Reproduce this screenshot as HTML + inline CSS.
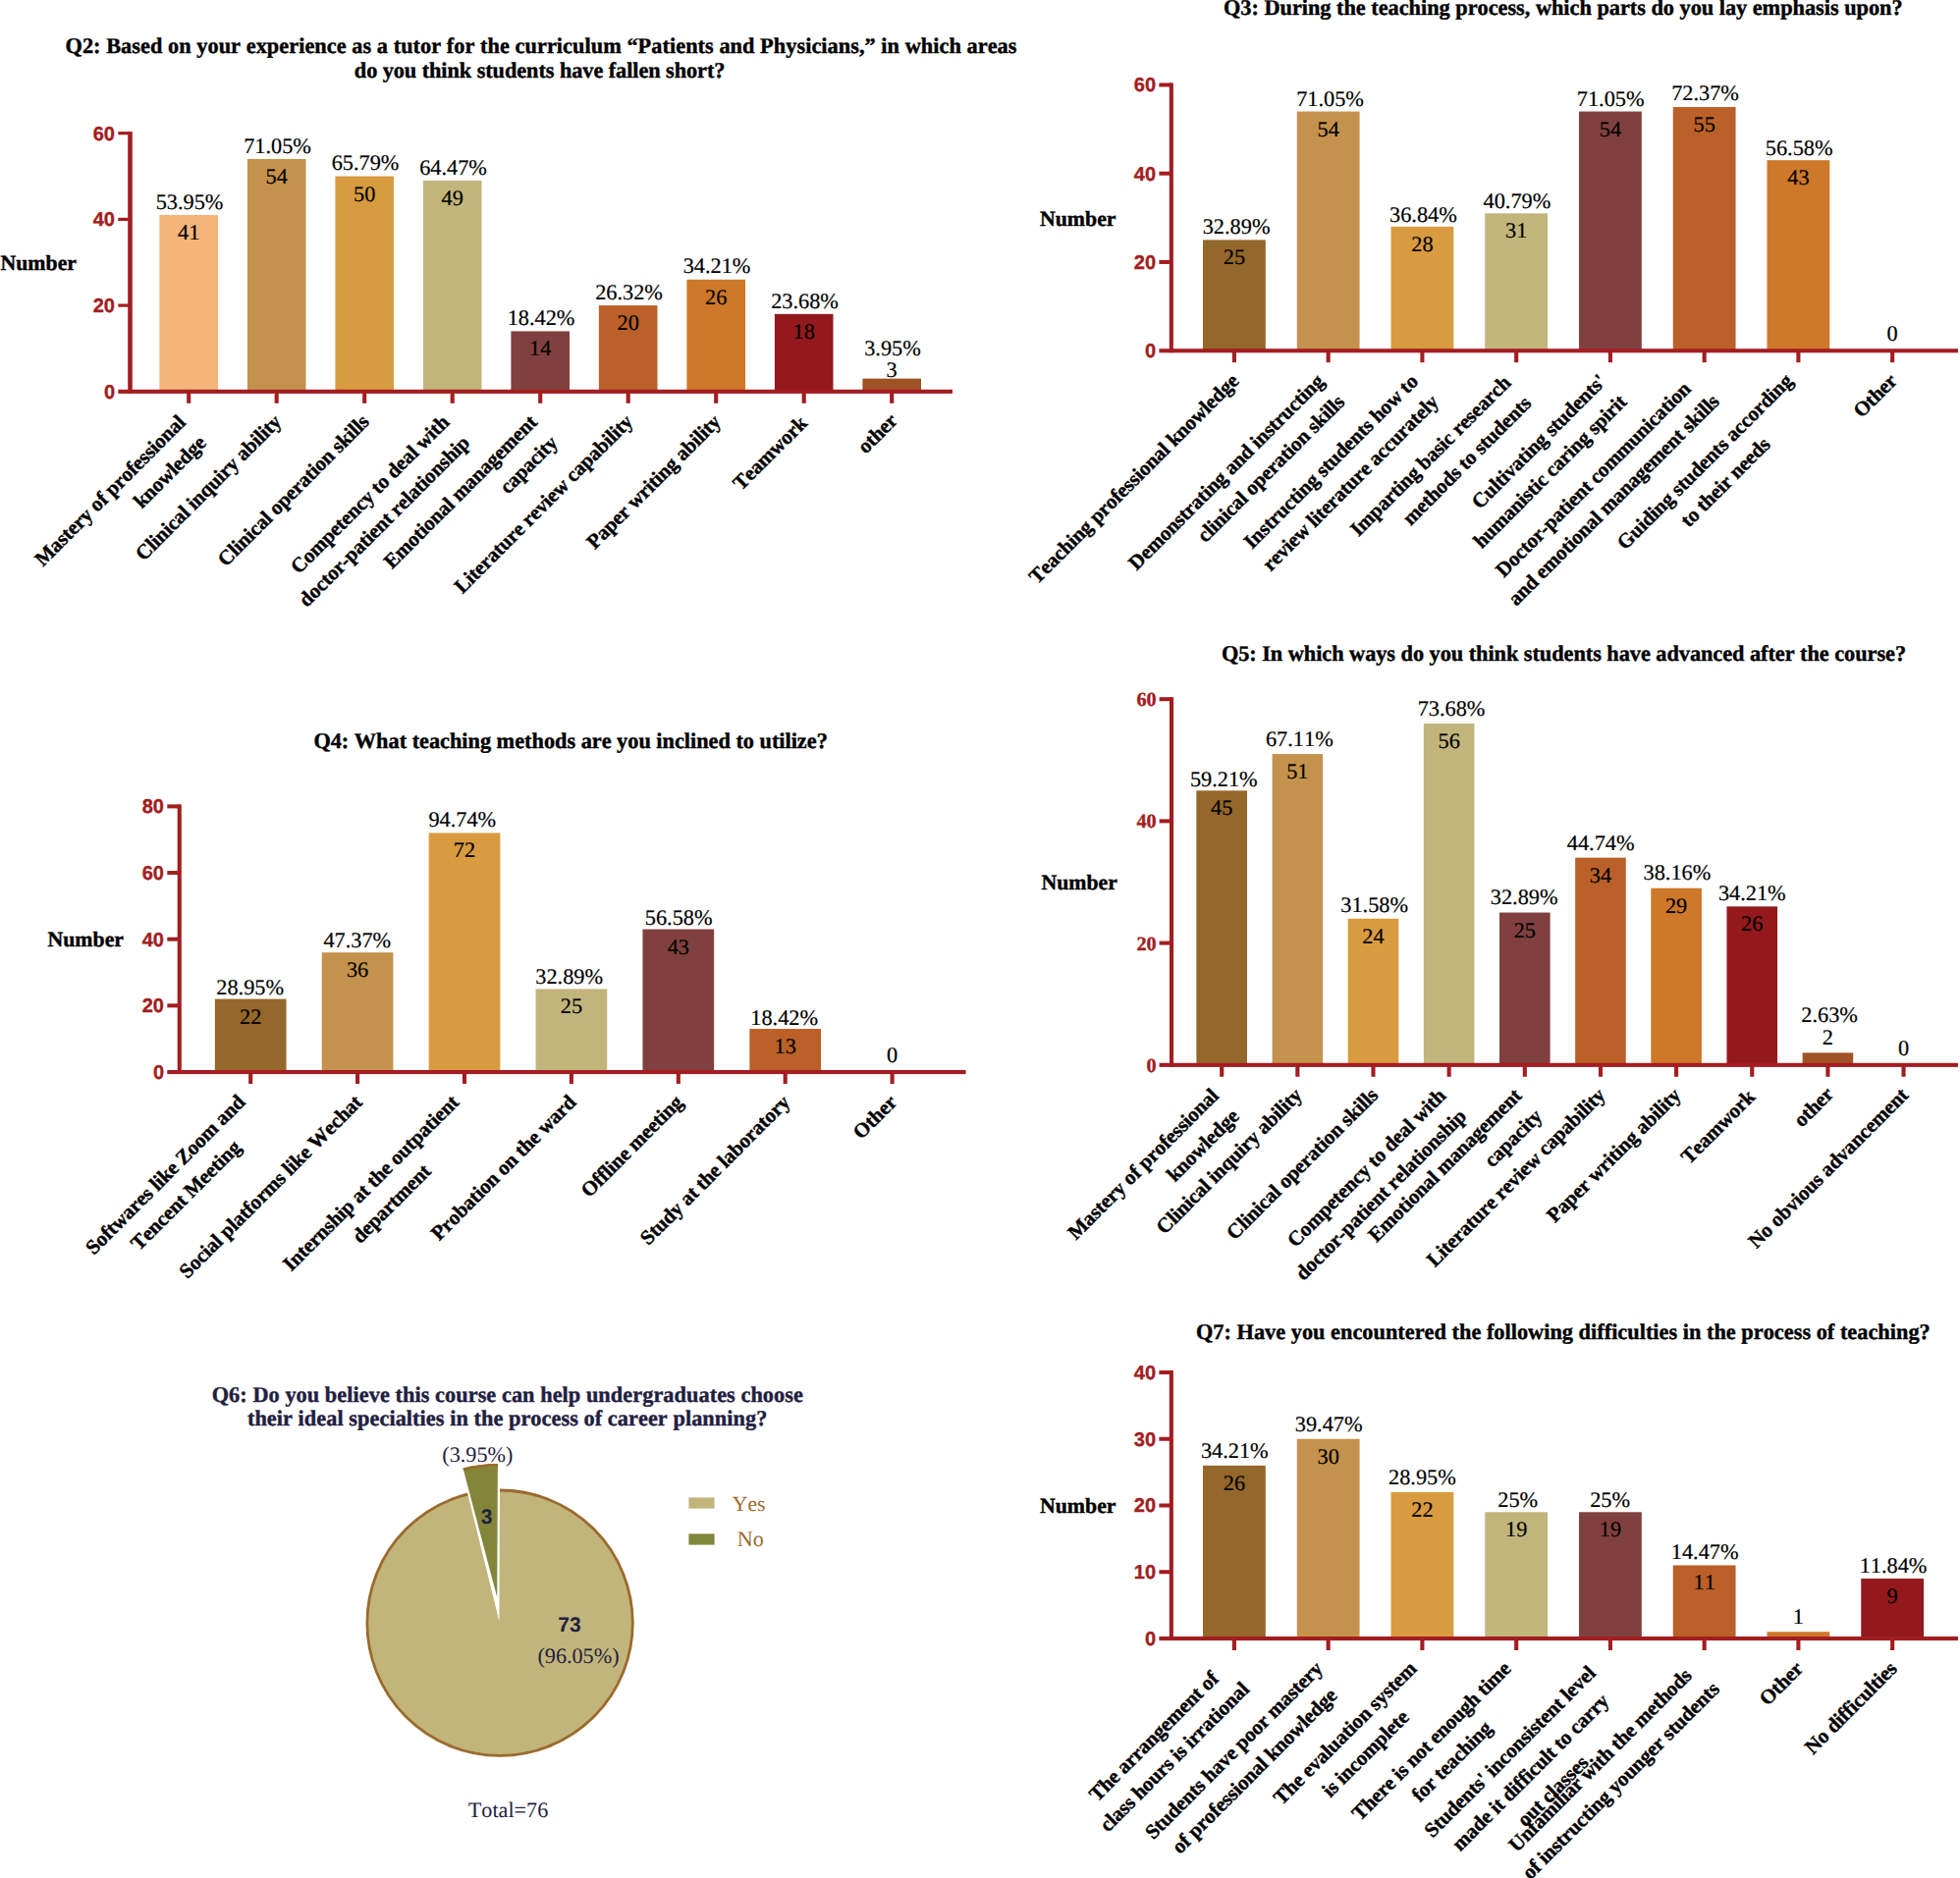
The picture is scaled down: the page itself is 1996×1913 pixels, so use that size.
<!DOCTYPE html>
<html><head><meta charset="utf-8"><title>Survey charts</title>
<style>
html,body{margin:0;padding:0;background:#fff;width:1996px;height:1913px;overflow:hidden}
svg{display:block}
text{font-family:"Liberation Serif",serif;fill:#000;font-kerning:none;text-rendering:geometricPrecision}
.ts{font-family:"Liberation Sans",sans-serif;font-weight:bold;font-size:20px;fill:#A31D21;stroke:#A31D21;stroke-width:0.35px}
.tf{font-family:"Liberation Serif",serif;font-weight:bold;font-size:20.2px;fill:#A31D21;stroke:#A31D21;stroke-width:0.35px}
.v{font-size:22.3px;stroke:#000;stroke-width:0.2px}
.xl{font-weight:bold;font-size:21.0px;letter-spacing:-0.18px;stroke:#000;stroke-width:0.4px}
.tt{font-weight:bold;font-size:22.3px;stroke:#000;stroke-width:0.4px}
.tn{fill:#1F2040;stroke:#1F2040}
.nb{font-weight:bold;font-size:21.8px;stroke:#000;stroke-width:0.4px}
.pb{font-family:"Liberation Sans",sans-serif;font-weight:bold;font-size:21px;fill:#1F2040}
.pv{font-size:22.2px;fill:#1F2040}
.lg{font-size:22.2px;fill:#9B6A2C}
</style></head><body>
<svg width="1996" height="1913" viewBox="0 0 1996 1913">
<rect width="1996" height="1913" fill="#fff"/>
<g><rect x="162.40" y="219.02" width="59.60" height="179.78" fill="#F4B47A"/>
<rect x="251.90" y="162.01" width="59.60" height="236.79" fill="#C5924E"/>
<rect x="341.40" y="179.55" width="59.60" height="219.25" fill="#D99B3F"/>
<rect x="430.90" y="183.94" width="59.60" height="214.86" fill="#C2B57C"/>
<rect x="520.40" y="337.41" width="59.60" height="61.39" fill="#80403F"/>
<rect x="609.90" y="311.10" width="59.60" height="87.70" fill="#BA6028"/>
<rect x="699.40" y="284.79" width="59.60" height="114.01" fill="#CE782B"/>
<rect x="788.90" y="319.87" width="59.60" height="78.93" fill="#93191D"/>
<rect x="878.40" y="385.65" width="59.60" height="13.15" fill="#A05325"/>
<rect x="130.20" y="134.10" width="4.6" height="266.70" fill="#A31D21"/>
<rect x="120.30" y="396.80" width="849.70" height="4.1" fill="#A31D21"/>
<text x="117.00" y="405.60" text-anchor="end" class="ts">0</text>
<rect x="120.30" y="309.50" width="12.5" height="3.2" fill="#A31D21"/>
<text x="117.00" y="317.90" text-anchor="end" class="ts">20</text>
<rect x="120.30" y="221.80" width="12.5" height="3.2" fill="#A31D21"/>
<text x="117.00" y="230.20" text-anchor="end" class="ts">40</text>
<rect x="120.30" y="134.10" width="12.5" height="3.2" fill="#A31D21"/>
<text x="117.00" y="142.50" text-anchor="end" class="ts">60</text>
<rect x="190.15" y="398.80" width="4.1" height="12" fill="#A31D21"/>
<rect x="279.65" y="398.80" width="4.1" height="12" fill="#A31D21"/>
<rect x="369.15" y="398.80" width="4.1" height="12" fill="#A31D21"/>
<rect x="458.65" y="398.80" width="4.1" height="12" fill="#A31D21"/>
<rect x="548.15" y="398.80" width="4.1" height="12" fill="#A31D21"/>
<rect x="637.65" y="398.80" width="4.1" height="12" fill="#A31D21"/>
<rect x="727.15" y="398.80" width="4.1" height="12" fill="#A31D21"/>
<rect x="816.65" y="398.80" width="4.1" height="12" fill="#A31D21"/>
<rect x="906.15" y="398.80" width="4.1" height="12" fill="#A31D21"/>
<text x="192.20" y="244.02" text-anchor="middle" class="v">41</text>
<text x="193.00" y="212.72" text-anchor="middle" class="v">53.95%</text>
<text x="281.70" y="187.01" text-anchor="middle" class="v">54</text>
<text x="282.50" y="155.71" text-anchor="middle" class="v">71.05%</text>
<text x="371.20" y="204.55" text-anchor="middle" class="v">50</text>
<text x="372.00" y="173.25" text-anchor="middle" class="v">65.79%</text>
<text x="460.70" y="208.94" text-anchor="middle" class="v">49</text>
<text x="461.50" y="177.64" text-anchor="middle" class="v">64.47%</text>
<text x="550.20" y="362.41" text-anchor="middle" class="v">14</text>
<text x="551.00" y="331.11" text-anchor="middle" class="v">18.42%</text>
<text x="639.70" y="336.10" text-anchor="middle" class="v">20</text>
<text x="640.50" y="304.80" text-anchor="middle" class="v">26.32%</text>
<text x="729.20" y="309.79" text-anchor="middle" class="v">26</text>
<text x="730.00" y="278.49" text-anchor="middle" class="v">34.21%</text>
<text x="818.70" y="344.87" text-anchor="middle" class="v">18</text>
<text x="819.50" y="313.57" text-anchor="middle" class="v">23.68%</text>
<text x="908.20" y="383.65" text-anchor="middle" class="v">3</text>
<text x="909.00" y="362.35" text-anchor="middle" class="v">3.95%</text>
<g transform="translate(190.02,431.40) rotate(-45)">
<text x="0.00" y="0.00" text-anchor="end" class="xl">Mastery of professional</text>
<text x="0.00" y="29.60" text-anchor="end" class="xl">knowledge</text>
</g>
<g transform="translate(287.50,430.90) rotate(-45)">
<text x="0.00" y="0.00" text-anchor="end" class="xl">Clinical inquiry ability</text>
</g>
<g transform="translate(377.00,430.90) rotate(-45)">
<text x="0.00" y="0.00" text-anchor="end" class="xl">Clinical operation skills</text>
</g>
<g transform="translate(458.52,431.40) rotate(-45)">
<text x="0.00" y="0.00" text-anchor="end" class="xl">Competency to deal with</text>
<text x="0.00" y="29.60" text-anchor="end" class="xl">doctor-patient relationship</text>
</g>
<g transform="translate(548.02,431.40) rotate(-45)">
<text x="0.00" y="0.00" text-anchor="end" class="xl">Emotional management</text>
<text x="0.00" y="29.60" text-anchor="end" class="xl">capacity</text>
</g>
<g transform="translate(645.50,430.90) rotate(-45)">
<text x="0.00" y="0.00" text-anchor="end" class="xl">Literature review capability</text>
</g>
<g transform="translate(735.00,430.90) rotate(-45)">
<text x="0.00" y="0.00" text-anchor="end" class="xl">Paper writing ability</text>
</g>
<g transform="translate(823.10,432.30) rotate(-45)">
<text x="0.00" y="0.00" text-anchor="end" class="xl">Teamwork</text>
</g>
<g transform="translate(915.00,429.90) rotate(-45)">
<text x="0.00" y="0.00" text-anchor="end" class="xl">other</text>
</g>
<text x="66.5" y="54.3" textLength="969.0" lengthAdjust="spacing" class="tt">Q2: Based on your experience as a tutor for the curriculum “Patients and Physicians,” in which areas</text>
<text x="360.79999999999995" y="79.2" textLength="377.59999999999997" lengthAdjust="spacing" class="tt">do you think students have fallen short?</text>
<text x="0.5" y="274.5" class="nb">Number</text></g>
<g><rect x="1225.00" y="244.40" width="63.80" height="112.80" fill="#94672A"/>
<rect x="1320.75" y="113.55" width="63.80" height="243.65" fill="#C5924E"/>
<rect x="1416.50" y="230.86" width="63.80" height="126.34" fill="#D99B3F"/>
<rect x="1512.25" y="217.33" width="63.80" height="139.87" fill="#C2B57C"/>
<rect x="1608.00" y="113.55" width="63.80" height="243.65" fill="#80403F"/>
<rect x="1703.75" y="109.04" width="63.80" height="248.16" fill="#BA6028"/>
<rect x="1799.50" y="163.18" width="63.80" height="194.02" fill="#CE782B"/>
<rect x="1190.80" y="84.48" width="4.1" height="274.72" fill="#A31D21"/>
<rect x="1180.40" y="355.20" width="813.60" height="4.1" fill="#A31D21"/>
<text x="1177.10" y="364.00" text-anchor="end" class="ts">0</text>
<rect x="1180.40" y="264.96" width="12.5" height="4.0" fill="#A31D21"/>
<text x="1177.10" y="273.76" text-anchor="end" class="ts">20</text>
<rect x="1180.40" y="174.72" width="12.5" height="4.0" fill="#A31D21"/>
<text x="1177.10" y="183.52" text-anchor="end" class="ts">40</text>
<rect x="1180.40" y="84.48" width="12.5" height="4.0" fill="#A31D21"/>
<text x="1177.10" y="93.28" text-anchor="end" class="ts">60</text>
<rect x="1254.85" y="357.20" width="4.1" height="12" fill="#A31D21"/>
<rect x="1350.60" y="357.20" width="4.1" height="12" fill="#A31D21"/>
<rect x="1446.35" y="357.20" width="4.1" height="12" fill="#A31D21"/>
<rect x="1542.10" y="357.20" width="4.1" height="12" fill="#A31D21"/>
<rect x="1637.85" y="357.20" width="4.1" height="12" fill="#A31D21"/>
<rect x="1733.60" y="357.20" width="4.1" height="12" fill="#A31D21"/>
<rect x="1829.35" y="357.20" width="4.1" height="12" fill="#A31D21"/>
<rect x="1925.10" y="357.20" width="4.1" height="12" fill="#A31D21"/>
<text x="1256.90" y="269.40" text-anchor="middle" class="v">25</text>
<text x="1259.10" y="238.20" text-anchor="middle" class="v">32.89%</text>
<text x="1352.65" y="138.55" text-anchor="middle" class="v">54</text>
<text x="1354.55" y="108.05" text-anchor="middle" class="v">71.05%</text>
<text x="1448.40" y="255.86" text-anchor="middle" class="v">28</text>
<text x="1449.40" y="225.86" text-anchor="middle" class="v">36.84%</text>
<text x="1544.15" y="242.33" text-anchor="middle" class="v">31</text>
<text x="1544.95" y="211.73" text-anchor="middle" class="v">40.79%</text>
<text x="1639.90" y="138.55" text-anchor="middle" class="v">54</text>
<text x="1640.20" y="108.05" text-anchor="middle" class="v">71.05%</text>
<text x="1735.65" y="134.04" text-anchor="middle" class="v">55</text>
<text x="1736.55" y="101.84" text-anchor="middle" class="v">72.37%</text>
<text x="1831.40" y="188.18" text-anchor="middle" class="v">43</text>
<text x="1832.20" y="158.18" text-anchor="middle" class="v">56.58%</text>
<text x="1927.15" y="347.20" text-anchor="middle" class="v">0</text>
<g transform="translate(1262.70,389.30) rotate(-45)">
<text x="0.00" y="0.00" text-anchor="end" class="xl">Teaching professional knowledge</text>
</g>
<g transform="translate(1349.47,389.80) rotate(-45)">
<text x="0.00" y="0.00" text-anchor="end" class="xl">Demonstrating and instructing</text>
<text x="0.00" y="29.60" text-anchor="end" class="xl">clinical operation skills</text>
</g>
<g transform="translate(1445.22,389.80) rotate(-45)">
<text x="0.00" y="0.00" text-anchor="end" class="xl">Instructing students how to</text>
<text x="0.00" y="29.60" text-anchor="end" class="xl">review literature accurately</text>
</g>
<g transform="translate(1539.57,391.20) rotate(-45)">
<text x="0.00" y="0.00" text-anchor="end" class="xl">Imparting basic research</text>
<text x="0.00" y="29.60" text-anchor="end" class="xl">methods to students</text>
</g>
<g transform="translate(1636.72,389.80) rotate(-45)">
<text x="0.00" y="0.00" text-anchor="end" class="xl">Cultivating students'</text>
<text x="0.00" y="29.60" text-anchor="end" class="xl">humanistic caring spirit</text>
</g>
<g transform="translate(1730.97,389.30) rotate(-45)">
<text x="-146.84" y="0.00" text-anchor="middle" class="xl">Doctor-patient communication</text>
<text x="-146.84" y="29.60" text-anchor="middle" class="xl">and emotional management skills</text>
</g>
<g transform="translate(1826.72,389.30) rotate(-45)">
<text x="-121.35" y="0.00" text-anchor="middle" class="xl">Guiding students according</text>
<text x="-121.35" y="29.60" text-anchor="middle" class="xl">to their needs</text>
</g>
<g transform="translate(1932.95,389.30) rotate(-45)">
<text x="0.00" y="0.00" text-anchor="end" class="xl">Other</text>
</g>
<text x="1246.0" y="14.8" textLength="691.6" lengthAdjust="spacing" class="tt">Q3: During the teaching process, which parts do you lay emphasis upon?</text>
<text x="1059" y="229.6" class="nb">Number</text></g>
<g><rect x="218.85" y="1017.59" width="72.70" height="74.41" fill="#94672A"/>
<rect x="327.75" y="970.23" width="72.70" height="121.77" fill="#C5924E"/>
<rect x="436.65" y="848.46" width="72.70" height="243.54" fill="#D99B3F"/>
<rect x="545.55" y="1007.44" width="72.70" height="84.56" fill="#C2B57C"/>
<rect x="654.45" y="946.55" width="72.70" height="145.45" fill="#80403F"/>
<rect x="763.35" y="1048.03" width="72.70" height="43.97" fill="#BA6028"/>
<rect x="180.70" y="819.40" width="4.1" height="274.60" fill="#A31D21"/>
<rect x="170.30" y="1090.00" width="813.30" height="4.1" fill="#A31D21"/>
<text x="167.00" y="1098.80" text-anchor="end" class="ts">0</text>
<rect x="170.30" y="1022.35" width="12.5" height="4.0" fill="#A31D21"/>
<text x="167.00" y="1031.15" text-anchor="end" class="ts">20</text>
<rect x="170.30" y="954.70" width="12.5" height="4.0" fill="#A31D21"/>
<text x="167.00" y="963.50" text-anchor="end" class="ts">40</text>
<rect x="170.30" y="887.05" width="12.5" height="4.0" fill="#A31D21"/>
<text x="167.00" y="895.85" text-anchor="end" class="ts">60</text>
<rect x="170.30" y="819.40" width="12.5" height="4.0" fill="#A31D21"/>
<text x="167.00" y="828.20" text-anchor="end" class="ts">80</text>
<rect x="253.15" y="1092.00" width="4.1" height="12" fill="#A31D21"/>
<rect x="362.05" y="1092.00" width="4.1" height="12" fill="#A31D21"/>
<rect x="470.95" y="1092.00" width="4.1" height="12" fill="#A31D21"/>
<rect x="579.85" y="1092.00" width="4.1" height="12" fill="#A31D21"/>
<rect x="688.75" y="1092.00" width="4.1" height="12" fill="#A31D21"/>
<rect x="797.65" y="1092.00" width="4.1" height="12" fill="#A31D21"/>
<rect x="906.55" y="1092.00" width="4.1" height="12" fill="#A31D21"/>
<text x="255.20" y="1042.59" text-anchor="middle" class="v">22</text>
<text x="254.70" y="1012.79" text-anchor="middle" class="v">28.95%</text>
<text x="364.10" y="995.23" text-anchor="middle" class="v">36</text>
<text x="363.80" y="965.43" text-anchor="middle" class="v">47.37%</text>
<text x="473.00" y="873.46" text-anchor="middle" class="v">72</text>
<text x="470.80" y="841.96" text-anchor="middle" class="v">94.74%</text>
<text x="581.90" y="1032.44" text-anchor="middle" class="v">25</text>
<text x="579.70" y="1001.84" text-anchor="middle" class="v">32.89%</text>
<text x="690.80" y="971.55" text-anchor="middle" class="v">43</text>
<text x="691.20" y="942.15" text-anchor="middle" class="v">56.58%</text>
<text x="799.70" y="1073.03" text-anchor="middle" class="v">13</text>
<text x="798.70" y="1043.63" text-anchor="middle" class="v">18.42%</text>
<text x="908.60" y="1082.00" text-anchor="middle" class="v">0</text>
<g transform="translate(250.52,1124.10) rotate(-45)">
<text x="-109.45" y="0.00" text-anchor="middle" class="xl">Softwares like Zoom and</text>
<text x="-109.45" y="29.60" text-anchor="middle" class="xl">Tencent Meeting</text>
</g>
<g transform="translate(369.90,1124.10) rotate(-45)">
<text x="0.00" y="0.00" text-anchor="end" class="xl">Social platforms like Wechat</text>
</g>
<g transform="translate(468.32,1124.10) rotate(-45)">
<text x="-121.45" y="0.00" text-anchor="middle" class="xl">Internship at the outpatient</text>
<text x="-121.45" y="29.60" text-anchor="middle" class="xl">department</text>
</g>
<g transform="translate(587.70,1124.10) rotate(-45)">
<text x="0.00" y="0.00" text-anchor="end" class="xl">Probation on the ward</text>
</g>
<g transform="translate(696.60,1124.10) rotate(-45)">
<text x="0.00" y="0.00" text-anchor="end" class="xl">Offline meeting</text>
</g>
<g transform="translate(805.50,1124.10) rotate(-45)">
<text x="0.00" y="0.00" text-anchor="end" class="xl">Study at the laboratory</text>
</g>
<g transform="translate(914.40,1124.10) rotate(-45)">
<text x="0.00" y="0.00" text-anchor="end" class="xl">Other</text>
</g>
<text x="319.4" y="762.3" textLength="523.4" lengthAdjust="spacing" class="tt">Q4: What teaching methods are you inclined to utilize?</text>
<text x="48.5" y="964.4" class="nb">Number</text></g>
<g><rect x="1218.40" y="805.35" width="51.60" height="279.45" fill="#94672A"/>
<rect x="1295.55" y="768.09" width="51.60" height="316.71" fill="#C5924E"/>
<rect x="1372.70" y="935.76" width="51.60" height="149.04" fill="#D99B3F"/>
<rect x="1449.85" y="737.04" width="51.60" height="347.76" fill="#C2B57C"/>
<rect x="1527.00" y="929.55" width="51.60" height="155.25" fill="#80403F"/>
<rect x="1604.15" y="873.66" width="51.60" height="211.14" fill="#BA6028"/>
<rect x="1681.30" y="904.71" width="51.60" height="180.09" fill="#CE782B"/>
<rect x="1758.45" y="923.34" width="51.60" height="161.46" fill="#93191D"/>
<rect x="1835.60" y="1072.38" width="51.60" height="12.42" fill="#A05325"/>
<rect x="1191.00" y="710.20" width="4.1" height="376.60" fill="#A31D21"/>
<rect x="1180.60" y="1082.80" width="813.40" height="4.1" fill="#A31D21"/>
<text x="1177.70" y="1091.70" text-anchor="end" class="tf">0</text>
<rect x="1180.60" y="958.60" width="12.5" height="4.0" fill="#A31D21"/>
<text x="1177.70" y="967.50" text-anchor="end" class="tf">20</text>
<rect x="1180.60" y="834.40" width="12.5" height="4.0" fill="#A31D21"/>
<text x="1177.70" y="843.30" text-anchor="end" class="tf">40</text>
<rect x="1180.60" y="710.20" width="12.5" height="4.0" fill="#A31D21"/>
<text x="1177.70" y="719.10" text-anchor="end" class="tf">60</text>
<rect x="1242.15" y="1084.80" width="4.1" height="12" fill="#A31D21"/>
<rect x="1319.30" y="1084.80" width="4.1" height="12" fill="#A31D21"/>
<rect x="1396.45" y="1084.80" width="4.1" height="12" fill="#A31D21"/>
<rect x="1473.60" y="1084.80" width="4.1" height="12" fill="#A31D21"/>
<rect x="1550.75" y="1084.80" width="4.1" height="12" fill="#A31D21"/>
<rect x="1627.90" y="1084.80" width="4.1" height="12" fill="#A31D21"/>
<rect x="1705.05" y="1084.80" width="4.1" height="12" fill="#A31D21"/>
<rect x="1782.20" y="1084.80" width="4.1" height="12" fill="#A31D21"/>
<rect x="1859.35" y="1084.80" width="4.1" height="12" fill="#A31D21"/>
<rect x="1936.50" y="1084.80" width="4.1" height="12" fill="#A31D21"/>
<text x="1244.20" y="830.35" text-anchor="middle" class="v">45</text>
<text x="1246.30" y="800.85" text-anchor="middle" class="v">59.21%</text>
<text x="1321.35" y="793.09" text-anchor="middle" class="v">51</text>
<text x="1323.35" y="760.29" text-anchor="middle" class="v">67.11%</text>
<text x="1398.50" y="960.76" text-anchor="middle" class="v">24</text>
<text x="1399.70" y="928.86" text-anchor="middle" class="v">31.58%</text>
<text x="1475.65" y="762.04" text-anchor="middle" class="v">56</text>
<text x="1478.05" y="728.64" text-anchor="middle" class="v">73.68%</text>
<text x="1552.80" y="954.55" text-anchor="middle" class="v">25</text>
<text x="1552.20" y="921.15" text-anchor="middle" class="v">32.89%</text>
<text x="1629.95" y="898.66" text-anchor="middle" class="v">34</text>
<text x="1630.15" y="865.96" text-anchor="middle" class="v">44.74%</text>
<text x="1707.10" y="929.71" text-anchor="middle" class="v">29</text>
<text x="1707.90" y="896.01" text-anchor="middle" class="v">38.16%</text>
<text x="1784.25" y="948.34" text-anchor="middle" class="v">26</text>
<text x="1784.25" y="917.44" text-anchor="middle" class="v">34.21%</text>
<text x="1861.40" y="1064.38" text-anchor="middle" class="v">2</text>
<text x="1863.10" y="1040.78" text-anchor="middle" class="v">2.63%</text>
<text x="1938.55" y="1074.80" text-anchor="middle" class="v">0</text>
<g transform="translate(1242.02,1117.40) rotate(-45)">
<text x="0.00" y="0.00" text-anchor="end" class="xl">Mastery of professional</text>
<text x="0.00" y="29.60" text-anchor="end" class="xl">knowledge</text>
</g>
<g transform="translate(1327.15,1116.90) rotate(-45)">
<text x="0.00" y="0.00" text-anchor="end" class="xl">Clinical inquiry ability</text>
</g>
<g transform="translate(1404.30,1116.90) rotate(-45)">
<text x="0.00" y="0.00" text-anchor="end" class="xl">Clinical operation skills</text>
</g>
<g transform="translate(1473.47,1117.40) rotate(-45)">
<text x="0.00" y="0.00" text-anchor="end" class="xl">Competency to deal with</text>
<text x="0.00" y="29.60" text-anchor="end" class="xl">doctor-patient relationship</text>
</g>
<g transform="translate(1550.62,1117.40) rotate(-45)">
<text x="0.00" y="0.00" text-anchor="end" class="xl">Emotional management</text>
<text x="0.00" y="29.60" text-anchor="end" class="xl">capacity</text>
</g>
<g transform="translate(1635.75,1116.90) rotate(-45)">
<text x="0.00" y="0.00" text-anchor="end" class="xl">Literature review capability</text>
</g>
<g transform="translate(1712.90,1116.90) rotate(-45)">
<text x="0.00" y="0.00" text-anchor="end" class="xl">Paper writing ability</text>
</g>
<g transform="translate(1788.45,1118.50) rotate(-45)">
<text x="0.00" y="0.00" text-anchor="end" class="xl">Teamwork</text>
</g>
<g transform="translate(1868.20,1115.90) rotate(-45)">
<text x="0.00" y="0.00" text-anchor="end" class="xl">other</text>
</g>
<g transform="translate(1944.35,1116.90) rotate(-45)">
<text x="0.00" y="0.00" text-anchor="end" class="xl">No obvious advancement</text>
</g>
<text x="1243.9" y="673.2" textLength="697.1999999999999" lengthAdjust="spacing" class="tt">Q5: In which ways do you think students have advanced after the course?</text>
<text x="1060.4" y="905.8" class="nb">Number</text></g>
<g><rect x="1225.00" y="1492.85" width="63.80" height="176.15" fill="#94672A"/>
<rect x="1320.75" y="1465.75" width="63.80" height="203.25" fill="#C5924E"/>
<rect x="1416.50" y="1519.95" width="63.80" height="149.05" fill="#D99B3F"/>
<rect x="1512.25" y="1540.28" width="63.80" height="128.72" fill="#C2B57C"/>
<rect x="1608.00" y="1540.28" width="63.80" height="128.72" fill="#80403F"/>
<rect x="1703.75" y="1594.47" width="63.80" height="74.53" fill="#BA6028"/>
<rect x="1799.50" y="1662.22" width="63.80" height="6.78" fill="#CE782B"/>
<rect x="1895.25" y="1608.03" width="63.80" height="60.98" fill="#93191D"/>
<rect x="1190.80" y="1396.00" width="4.1" height="275.00" fill="#A31D21"/>
<rect x="1180.40" y="1667.00" width="813.60" height="4.1" fill="#A31D21"/>
<text x="1177.10" y="1675.80" text-anchor="end" class="ts">0</text>
<rect x="1180.40" y="1599.25" width="12.5" height="4.0" fill="#A31D21"/>
<text x="1177.10" y="1608.05" text-anchor="end" class="ts">10</text>
<rect x="1180.40" y="1531.50" width="12.5" height="4.0" fill="#A31D21"/>
<text x="1177.10" y="1540.30" text-anchor="end" class="ts">20</text>
<rect x="1180.40" y="1463.75" width="12.5" height="4.0" fill="#A31D21"/>
<text x="1177.10" y="1472.55" text-anchor="end" class="ts">30</text>
<rect x="1180.40" y="1396.00" width="12.5" height="4.0" fill="#A31D21"/>
<text x="1177.10" y="1404.80" text-anchor="end" class="ts">40</text>
<rect x="1254.85" y="1669.00" width="4.1" height="12" fill="#A31D21"/>
<rect x="1350.60" y="1669.00" width="4.1" height="12" fill="#A31D21"/>
<rect x="1446.35" y="1669.00" width="4.1" height="12" fill="#A31D21"/>
<rect x="1542.10" y="1669.00" width="4.1" height="12" fill="#A31D21"/>
<rect x="1637.85" y="1669.00" width="4.1" height="12" fill="#A31D21"/>
<rect x="1733.60" y="1669.00" width="4.1" height="12" fill="#A31D21"/>
<rect x="1829.35" y="1669.00" width="4.1" height="12" fill="#A31D21"/>
<rect x="1925.10" y="1669.00" width="4.1" height="12" fill="#A31D21"/>
<text x="1256.90" y="1517.85" text-anchor="middle" class="v">26</text>
<text x="1257.30" y="1485.35" text-anchor="middle" class="v">34.21%</text>
<text x="1352.65" y="1490.75" text-anchor="middle" class="v">30</text>
<text x="1353.15" y="1458.25" text-anchor="middle" class="v">39.47%</text>
<text x="1448.40" y="1544.95" text-anchor="middle" class="v">22</text>
<text x="1448.40" y="1512.45" text-anchor="middle" class="v">28.95%</text>
<text x="1544.15" y="1565.28" text-anchor="middle" class="v">19</text>
<text x="1545.75" y="1535.48" text-anchor="middle" class="v">25%</text>
<text x="1639.90" y="1565.28" text-anchor="middle" class="v">19</text>
<text x="1639.60" y="1535.18" text-anchor="middle" class="v">25%</text>
<text x="1735.65" y="1619.47" text-anchor="middle" class="v">11</text>
<text x="1736.15" y="1587.57" text-anchor="middle" class="v">14.47%</text>
<text x="1831.40" y="1654.22" text-anchor="middle" class="v">1</text>
<text x="1927.15" y="1633.03" text-anchor="middle" class="v">9</text>
<text x="1928.05" y="1601.62" text-anchor="middle" class="v">11.84%</text>
<g transform="translate(1252.22,1701.10) rotate(-45)">
<text x="-102.46" y="0.00" text-anchor="middle" class="xl">The arrangement of</text>
<text x="-102.46" y="29.60" text-anchor="middle" class="xl">class hours is irrational</text>
</g>
<g transform="translate(1347.97,1701.10) rotate(-45)">
<text x="-122.59" y="0.00" text-anchor="middle" class="xl">Students have poor mastery</text>
<text x="-122.59" y="29.60" text-anchor="middle" class="xl">of professional knowledge</text>
</g>
<g transform="translate(1443.72,1701.10) rotate(-45)">
<text x="-97.86" y="0.00" text-anchor="middle" class="xl">The evaluation system</text>
<text x="-97.86" y="29.60" text-anchor="middle" class="xl">is incomplete</text>
</g>
<g transform="translate(1539.47,1701.10) rotate(-45)">
<text x="-109.06" y="0.00" text-anchor="middle" class="xl">There is not enough time</text>
<text x="-109.06" y="29.60" text-anchor="middle" class="xl">for teaching</text>
</g>
<g transform="translate(1626.04,1705.60) rotate(-45)">
<text x="-118.24" y="0.00" text-anchor="middle" class="xl">Students' inconsistent level</text>
<text x="-118.24" y="29.60" text-anchor="middle" class="xl">made it difficult to carry</text>
<text x="-115.74" y="59.20" text-anchor="middle" class="xl">out classes</text>
</g>
<g transform="translate(1730.97,1701.10) rotate(-45)">
<text x="-136.74" y="0.00" text-anchor="middle" class="xl">Unfamiliar with the methods</text>
<text x="-136.74" y="29.60" text-anchor="middle" class="xl">of instructing younger students</text>
</g>
<g transform="translate(1837.20,1701.10) rotate(-45)">
<text x="0.00" y="0.00" text-anchor="end" class="xl">Other</text>
</g>
<g transform="translate(1932.95,1701.10) rotate(-45)">
<text x="0.00" y="0.00" text-anchor="end" class="xl">No difficulties</text>
</g>
<text x="1218.0" y="1364.4" textLength="747.6999999999999" lengthAdjust="spacing" class="tt">Q7: Have you encountered the following difficulties in the process of teaching?</text>
<text x="1059" y="1540.5" class="nb">Number</text></g>
<g><circle cx="509.1" cy="1653.2" r="135.2" fill="#C2B57C" stroke="#9B6A2C" stroke-width="2.8"/>
<polygon points="508.4,1651.6 509.1,1505 472.2,1505" fill="#fff"/>
<defs><pattern id="st" width="10" height="5.4" patternUnits="userSpaceOnUse"><rect width="10" height="5.4" fill="#82863A"/><rect y="2.4" width="10" height="0.7" fill="#9B6A2C" opacity="0.35"/></pattern></defs>
<path d="M506.2,1627.0 L506.9,1491.0 A136,136 0 0 0 471.5,1495.6 Z" fill="url(#st)"/>
<path d="M506.9,1492.3 A136,136 0 0 0 471.8,1496.8999999999999" fill="none" stroke="#9B6A2C" stroke-width="2.6"/>
<text x="495.5" y="1552" text-anchor="middle" class="pb">3</text>
<text x="580" y="1661.6" text-anchor="middle" class="pb">73</text>
<text x="589" y="1694.3" text-anchor="middle" class="pv">(96.05%)</text>
<text x="486.4" y="1489.2" text-anchor="middle" class="pv">(3.95%)</text>
<text x="517.5" y="1850.7" text-anchor="middle" class="pv">Total=76</text>
<text x="215.7" y="1427.6" textLength="602.2" lengthAdjust="spacing" class="tt tn">Q6: Do you believe this course can help undergraduates choose</text>
<text x="251.9" y="1451.8" textLength="529.4" lengthAdjust="spacing" class="tt tn">their ideal specialties in the process of career planning?</text>
<rect x="701.4" y="1525.4" width="26.2" height="11.2" fill="#C2B57C"/>
<rect x="701.4" y="1562.4" width="26.2" height="11.2" fill="#82863A"/>
<text x="745.8" y="1539" class="lg" style="font-size:21.6px">Yes</text>
<text x="750.7" y="1574.6" class="lg">No</text></g>
</svg>
</body></html>
